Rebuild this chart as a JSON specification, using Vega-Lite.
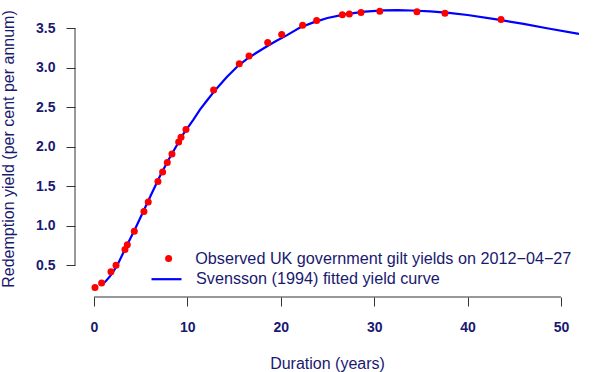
{
  "$schema": "https://vega.github.io/schema/vega-lite/v6.json",
  "width": 504,
  "height": 297,
  "autosize": {"type": "none"},
  "padding": {"left": 75, "top": 0, "right": 18, "bottom": 75},
  "background": "white",
  "config": {
    "view": {"stroke": null},
    "font": "Liberation Sans",
    "axis": {
      "domain": false,
      "grid": false,
      "tickColor": "#333333",
      "tickSize": 9,
      "labelFont": "Liberation Sans",
      "labelFontWeight": "bold",
      "labelFontSize": 14,
      "labelColor": "#191970",
      "titleFont": "Liberation Sans",
      "titleFontWeight": "normal",
      "titleFontSize": 16,
      "titleColor": "#191970"
    },
    "legend": {
      "orient": "none",
      "title": null,
      "padding": 0,
      "labelLimit": 0,
      "labelFont": "Liberation Sans",
      "labelFontSize": 16.2,
      "labelColor": "#191970"
    }
  },
  "datasets": {
    "observed": [
      {"duration": 0.11, "yield": 0.22, "series": "Observed UK government gilt yields on 2012\u221204\u221227"},
      {"duration": 0.82, "yield": 0.276, "series": "Observed UK government gilt yields on 2012\u221204\u221227"},
      {"duration": 1.82, "yield": 0.42, "series": "Observed UK government gilt yields on 2012\u221204\u221227"},
      {"duration": 2.36, "yield": 0.50, "series": "Observed UK government gilt yields on 2012\u221204\u221227"},
      {"duration": 3.32, "yield": 0.70, "series": "Observed UK government gilt yields on 2012\u221204\u221227"},
      {"duration": 3.57, "yield": 0.76, "series": "Observed UK government gilt yields on 2012\u221204\u221227"},
      {"duration": 4.32, "yield": 0.93, "series": "Observed UK government gilt yields on 2012\u221204\u221227"},
      {"duration": 5.35, "yield": 1.18, "series": "Observed UK government gilt yields on 2012\u221204\u221227"},
      {"duration": 5.81, "yield": 1.30, "series": "Observed UK government gilt yields on 2012\u221204\u221227"},
      {"duration": 6.85, "yield": 1.56, "series": "Observed UK government gilt yields on 2012\u221204\u221227"},
      {"duration": 7.35, "yield": 1.68, "series": "Observed UK government gilt yields on 2012\u221204\u221227"},
      {"duration": 7.85, "yield": 1.80, "series": "Observed UK government gilt yields on 2012\u221204\u221227"},
      {"duration": 8.35, "yield": 1.91, "series": "Observed UK government gilt yields on 2012\u221204\u221227"},
      {"duration": 9.07, "yield": 2.06, "series": "Observed UK government gilt yields on 2012\u221204\u221227"},
      {"duration": 9.32, "yield": 2.12, "series": "Observed UK government gilt yields on 2012\u221204\u221227"},
      {"duration": 9.85, "yield": 2.22, "series": "Observed UK government gilt yields on 2012\u221204\u221227"},
      {"duration": 12.81, "yield": 2.72, "series": "Observed UK government gilt yields on 2012\u221204\u221227"},
      {"duration": 15.56, "yield": 3.05, "series": "Observed UK government gilt yields on 2012\u221204\u221227"},
      {"duration": 16.6, "yield": 3.15, "series": "Observed UK government gilt yields on 2012\u221204\u221227"},
      {"duration": 18.6, "yield": 3.32, "series": "Observed UK government gilt yields on 2012\u221204\u221227"},
      {"duration": 20.1, "yield": 3.42, "series": "Observed UK government gilt yields on 2012\u221204\u221227"},
      {"duration": 22.34, "yield": 3.54, "series": "Observed UK government gilt yields on 2012\u221204\u221227"},
      {"duration": 23.84, "yield": 3.60, "series": "Observed UK government gilt yields on 2012\u221204\u221227"},
      {"duration": 26.59, "yield": 3.67, "series": "Observed UK government gilt yields on 2012\u221204\u221227"},
      {"duration": 27.34, "yield": 3.68, "series": "Observed UK government gilt yields on 2012\u221204\u221227"},
      {"duration": 28.59, "yield": 3.70, "series": "Observed UK government gilt yields on 2012\u221204\u221227"},
      {"duration": 30.6, "yield": 3.715, "series": "Observed UK government gilt yields on 2012\u221204\u221227"},
      {"duration": 34.58, "yield": 3.71, "series": "Observed UK government gilt yields on 2012\u221204\u221227"},
      {"duration": 37.58, "yield": 3.69, "series": "Observed UK government gilt yields on 2012\u221204\u221227"},
      {"duration": 43.58, "yield": 3.61, "series": "Observed UK government gilt yields on 2012\u221204\u221227"}
    ],
    "fitted": [
      {"duration": 0.93, "yield": 0.26, "series": "Svensson (1994) fitted yield curve"},
      {"duration": 1.3, "yield": 0.305, "series": "Svensson (1994) fitted yield curve"},
      {"duration": 1.71, "yield": 0.36, "series": "Svensson (1994) fitted yield curve"},
      {"duration": 2.2, "yield": 0.445, "series": "Svensson (1994) fitted yield curve"},
      {"duration": 2.6, "yield": 0.525, "series": "Svensson (1994) fitted yield curve"},
      {"duration": 3.0, "yield": 0.625, "series": "Svensson (1994) fitted yield curve"},
      {"duration": 3.5, "yield": 0.745, "series": "Svensson (1994) fitted yield curve"},
      {"duration": 4.0, "yield": 0.865, "series": "Svensson (1994) fitted yield curve"},
      {"duration": 4.39, "yield": 0.957, "series": "Svensson (1994) fitted yield curve"},
      {"duration": 5.28, "yield": 1.18, "series": "Svensson (1994) fitted yield curve"},
      {"duration": 6.18, "yield": 1.41, "series": "Svensson (1994) fitted yield curve"},
      {"duration": 7.07, "yield": 1.63, "series": "Svensson (1994) fitted yield curve"},
      {"duration": 8.0, "yield": 1.84, "series": "Svensson (1994) fitted yield curve"},
      {"duration": 8.49, "yield": 1.94, "series": "Svensson (1994) fitted yield curve"},
      {"duration": 9.56, "yield": 2.16, "series": "Svensson (1994) fitted yield curve"},
      {"duration": 10.63, "yield": 2.34, "series": "Svensson (1994) fitted yield curve"},
      {"duration": 11.35, "yield": 2.47, "series": "Svensson (1994) fitted yield curve"},
      {"duration": 12.06, "yield": 2.58, "series": "Svensson (1994) fitted yield curve"},
      {"duration": 13.0, "yield": 2.72, "series": "Svensson (1994) fitted yield curve"},
      {"duration": 14.2, "yield": 2.88, "series": "Svensson (1994) fitted yield curve"},
      {"duration": 15.3, "yield": 3.01, "series": "Svensson (1994) fitted yield curve"},
      {"duration": 16.35, "yield": 3.11, "series": "Svensson (1994) fitted yield curve"},
      {"duration": 17.4, "yield": 3.19, "series": "Svensson (1994) fitted yield curve"},
      {"duration": 18.49, "yield": 3.27, "series": "Svensson (1994) fitted yield curve"},
      {"duration": 19.5, "yield": 3.34, "series": "Svensson (1994) fitted yield curve"},
      {"duration": 20.63, "yield": 3.41, "series": "Svensson (1994) fitted yield curve"},
      {"duration": 22.06, "yield": 3.51, "series": "Svensson (1994) fitted yield curve"},
      {"duration": 23.5, "yield": 3.575, "series": "Svensson (1994) fitted yield curve"},
      {"duration": 25.0, "yield": 3.63, "series": "Svensson (1994) fitted yield curve"},
      {"duration": 27.0, "yield": 3.68, "series": "Svensson (1994) fitted yield curve"},
      {"duration": 29.0, "yield": 3.71, "series": "Svensson (1994) fitted yield curve"},
      {"duration": 31.0, "yield": 3.727, "series": "Svensson (1994) fitted yield curve"},
      {"duration": 32.5, "yield": 3.73, "series": "Svensson (1994) fitted yield curve"},
      {"duration": 34.0, "yield": 3.725, "series": "Svensson (1994) fitted yield curve"},
      {"duration": 36.0, "yield": 3.713, "series": "Svensson (1994) fitted yield curve"},
      {"duration": 38.0, "yield": 3.695, "series": "Svensson (1994) fitted yield curve"},
      {"duration": 40.0, "yield": 3.668, "series": "Svensson (1994) fitted yield curve"},
      {"duration": 43.1, "yield": 3.613, "series": "Svensson (1994) fitted yield curve"},
      {"duration": 46.0, "yield": 3.555, "series": "Svensson (1994) fitted yield curve"},
      {"duration": 48.5, "yield": 3.50, "series": "Svensson (1994) fitted yield curve"},
      {"duration": 51.93, "yield": 3.43, "series": "Svensson (1994) fitted yield curve"}
    ]
  },
  "layer": [
    {
      "data": {"values": [{}]},
      "mark": {"type": "rule", "color": "#333333", "strokeWidth": 1},
      "encoding": {
        "x": {"datum": 0, "type": "quantitative", "scale": {"domain": [-2.03, 51.93], "nice": false, "zero": false}},
        "x2": {"datum": 50},
        "y": {"datum": 0.099, "type": "quantitative", "scale": {"domain": [0.099, 3.858], "nice": false, "zero": false}}
      }
    },
    {
      "data": {"values": [{}]},
      "mark": {"type": "rule", "color": "#333333", "strokeWidth": 1},
      "encoding": {
        "x": {"datum": -2.03, "type": "quantitative"},
        "y": {"datum": 0.5, "type": "quantitative"},
        "y2": {"datum": 3.5}
      }
    },
    {
      "data": {"name": "fitted"},
      "mark": {"type": "line", "strokeWidth": 2.2, "clip": true},
      "encoding": {
        "x": {"field": "duration", "type": "quantitative"},
        "y": {"field": "yield", "type": "quantitative"},
        "stroke": {
          "field": "series", "type": "nominal",
          "scale": {"range": ["#0000ff"]},
          "legend": {"legendX": 75, "legendY": 262.7, "symbolType": "stroke", "symbolSize": 900, "symbolStrokeWidth": 2.2, "labelOffset": 13}
        }
      }
    },
    {
      "data": {"name": "observed"},
      "mark": {"type": "point", "filled": true, "size": 49, "opacity": 1},
      "encoding": {
        "x": {
          "field": "duration", "type": "quantitative",
          "axis": {"values": [0, 10, 20, 30, 40, 50], "labelPadding": 14, "title": "Duration (years)", "titlePadding": 21}
        },
        "y": {
          "field": "yield", "type": "quantitative",
          "axis": {"values": [0.5, 1.0, 1.5, 2.0, 2.5, 3.0, 3.5], "format": ".1f", "labelPadding": 11, "title": "Redemption yield (per cent per annum)", "titlePadding": 19.5}
        },
        "color": {
          "field": "series", "type": "nominal",
          "scale": {"range": ["#ff0000"]},
          "legend": {"legendX": 85.5, "legendY": 250.5, "symbolType": "circle", "symbolSize": 49, "labelOffset": 18.5}
        }
      }
    }
  ]
}
